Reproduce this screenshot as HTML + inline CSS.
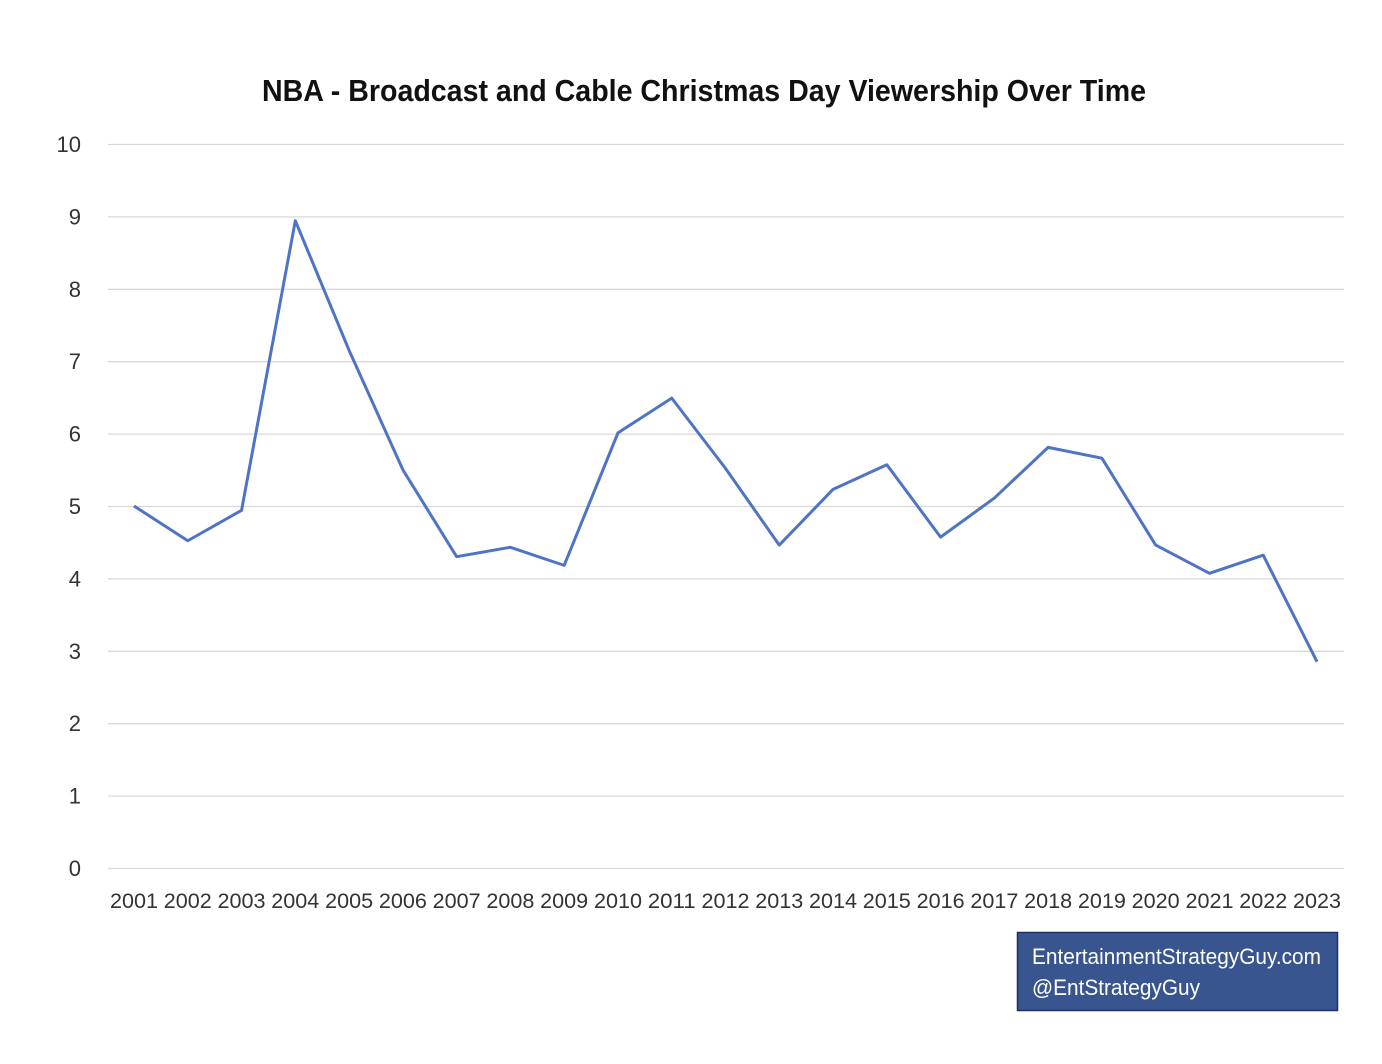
<!DOCTYPE html>
<html><head><meta charset="utf-8"><style>
html,body{margin:0;padding:0;background:#fff;width:1382px;height:1064px;overflow:hidden}
svg{display:block}
text{font-family:"Liberation Sans",sans-serif;}
</style></head><body>
<svg id="chart" width="1382" height="1064" xmlns="http://www.w3.org/2000/svg">
<rect width="1382" height="1064" fill="#fff"/>
<text x="704" y="101" text-anchor="middle" font-size="31" font-weight="bold" fill="#111" textLength="884" lengthAdjust="spacingAndGlyphs">NBA - Broadcast and Cable Christmas Day Viewership Over Time</text>
<g id="grid"></g><g id="yt"></g><g id="xt"></g><g id="series"></g>
<g>
<rect x="1017.5" y="932.5" width="320" height="78" fill="#38558f" stroke="#1f2f5e" stroke-width="1.5"/>
<text x="1032" y="964" font-size="22" fill="#fff" textLength="289" lengthAdjust="spacingAndGlyphs">EntertainmentStrategyGuy.com</text>
<text x="1032" y="995" font-size="22" fill="#fff" textLength="168" lengthAdjust="spacingAndGlyphs">@EntStrategyGuy</text>
</g>
</svg>
<script>
const years=["2001","2002","2003","2004","2005","2006","2007","2008","2009","2010","2011","2012","2013","2014","2015","2016","2017","2018","2019","2020","2021","2022","2023"];
const viewers=[5.0,4.52,4.94,8.94,7.15,5.5,4.3,4.43,4.18,6.01,6.49,5.52,4.46,5.23,5.57,4.57,5.11,5.81,5.66,4.46,4.07,4.32,2.85];
const yTicks=[0,1,2,3,4,5,6,7,8,9,10];
const NS="http://www.w3.org/2000/svg";
const y=v=>868-v*72.4;
const x=i=>134+i*(1183/22);
function mk(t,a,p){const e=document.createElementNS(NS,t);for(const k in a)e.setAttribute(k,a[k]);p.appendChild(e);return e;}
const grid=document.getElementById('grid'),yt=document.getElementById('yt'),xt=document.getElementById('xt'),ser=document.getElementById('series');
yTicks.forEach(v=>{
 const l=mk('line',{x1:108,x2:1344,y1:y(v)+.5,y2:y(v)+.5,stroke:'#d9d9d9','stroke-width':1.3},grid);
 
 
 const t=mk('text',{x:81,y:y(v)+8,'text-anchor':'end','font-size':22,fill:'#333'},yt);
 t.textContent=v;
 
 
});
years.forEach((yr,i)=>{
 const t=mk('text',{x:x(i),y:908,'text-anchor':'middle','font-size':21,fill:'#333',textLength:48,lengthAdjust:'spacingAndGlyphs'},xt);
 t.textContent=yr;
 
 
});
const p=mk('polyline',{points:viewers.map((v,i)=>x(i)+','+y(v)).join(' '),fill:'none',stroke:'#4f74c4','stroke-width':3,'stroke-linejoin':'round'},ser);


</script>
</body></html>
